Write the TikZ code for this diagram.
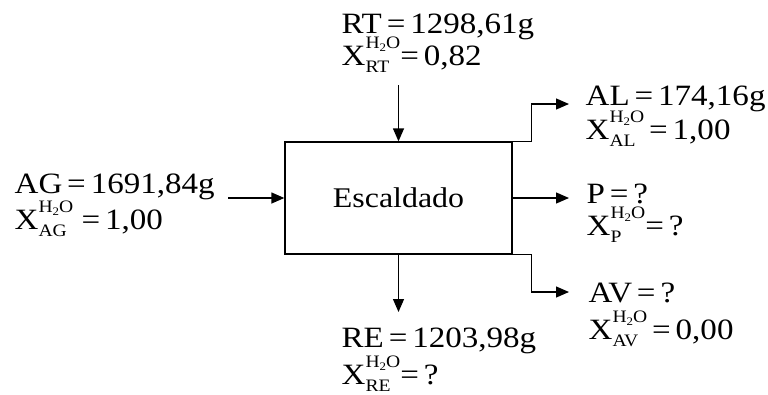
\documentclass[tikz,border=0pt]{standalone}
\usepackage{fontspec}
\setmainfont{Liberation Serif}[FakeStretch=1.12]
\usetikzlibrary{arrows.meta}
% X with H2O above and the stream name below
\newcommand{\xagua}[1]{X\rlap{\raisebox{-7pt}{\fontsize{17.5}{17.5}\selectfont #1}}%
    \raisebox{17pt}[0pt][0pt]{\fontsize{17.5}{17.5}\selectfont H\raisebox{-.22em}{\fontsize{11.5}{11.5}\selectfont 2}O}}

\begin{document}
\begin{tikzpicture}[x=1pt, y=-1pt, >={Triangle[length=13pt,width=11pt]}, line width=1.3pt,
    corrente/.style={align=left, anchor=base west, inner sep=0pt,
        font=\fontsize{29.5}{34}\selectfont}]
        \useasboundingbox (0,0) rectangle (768,394);
        % ==== PROCESS BOX ====
        \node[draw, minimum width=227pt, minimum height=112pt, inner sep=0pt,
            font=\fontsize{28.5}{34}\selectfont] (esc) at (398.5,198) {Escaldado};
        % ==== STREAMS (base = last line) ====
        \node[corrente] (rt) at (341,65) {RT\,=\,1298,61g\\[-2pt]\xagua{RT}=\,0,82};
        \node[corrente] (ag) at (14,229) {AG\,=\,1691,84g\\[2pt]\xagua{AG} =\,1,00};
        \node[corrente] (re) at (341,384) {RE\,=\,1203,98g\\[3pt]\xagua{RE}=\,?};
        \node[corrente] (al) at (585,139) {AL\,=\,174,16g\\\xagua{AL}\,=\,1,00};
        \node[corrente] (p) at (586,235) {P\,=\,?\\[-2pt]\xagua{P}=\,?};
        \node[corrente] (av) at (588,339) {AV\,=\,?\\[3pt]\xagua{AV}\,=\,0,00};
        % ==== Inlets ====
        \coordinate (agin) at (228,198);
        \coordinate (rtin) at (398.5,85);
        \draw[->] (agin) -- (esc.west);
        \draw[->] (rtin) -- (esc.north);
        % ==== Outlets ====
        \coordinate (reout) at (398.5,312);
        \coordinate (alout) at (569,104);
        \coordinate (pout) at (569,198);
        \coordinate (avout) at (569,292);
        \draw[->] (esc.south) -- (reout);
        \draw[->] (esc.north east) -- ++(19,0) |- (alout);
        \draw[->] (esc.east) -- (pout);
        \draw[->] (esc.south east) -- ++(19,0) |- (avout);
\end{tikzpicture}
\end{document}
